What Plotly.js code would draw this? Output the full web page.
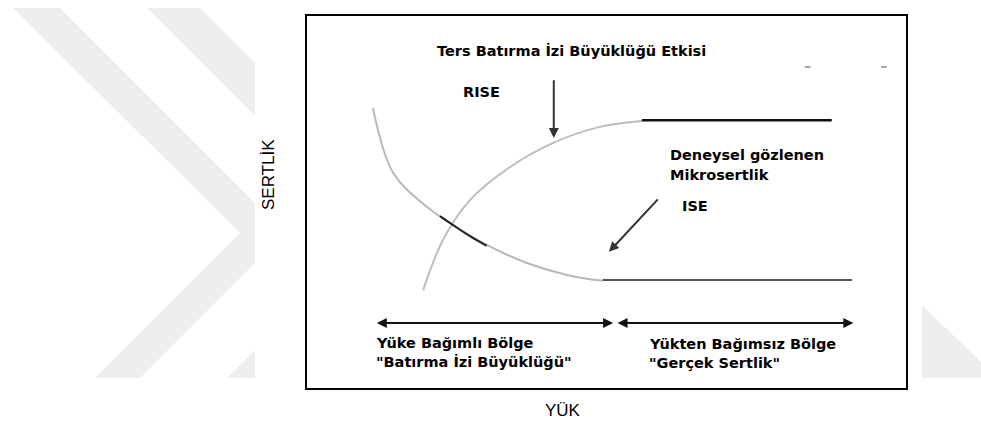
<!DOCTYPE html>
<html>
<head>
<meta charset="utf-8">
<script src="https://cdn.plot.ly/plotly-3.0.1.min.js"></script>
<style>
  html, body { margin: 0; padding: 0; background: #fff; }
  #plot { width: 981px; height: 423px; }
</style>
</head>
<body>
<div id="plot"></div>
<script>
// yük (x) ve sertlik (y), 0-100 keyfi birim
const riseLoad = [19.4, 22.7, 27.2, 33.9, 41.1, 48.9, 55.9];
const riseHard = [26.3, 39.8, 50.5, 59.4, 65.9, 70.2, 71.8];
const risePlateauLoad = [55.9, 87.6];
const risePlateauHard = [72.0, 72.0];

const iseLoad = [11.0, 14.4, 20.0, 24.4, 30.1, 36.7, 43.4, 49.4];
const iseHard = [75.3, 57.8, 48.7, 43.8, 38.4, 33.6, 30.4, 28.8];
const isePlateauLoad = [49.4, 91.0];
const isePlateauHard = [29.0, 29.0];

// kesişme civarındaki koyu kısım
const crossLoad = [22.2, 24.4, 27.2, 30.0];
const crossHard = [46.2, 43.8, 40.8, 38.2];

// sağ üstteki küçük işaretler
const tickLoad = [83.6, 96.3];
const tickHard = [86.3, 86.3];

// bölge sınırları (yük ekseni)
const regionEdges = [11.4, 51.1, 51.6, 91.2];
const regionArrowHard = 17.5;

// ok uçları: [x ucu, y ucu, x kuyruk, y kuyruk]
const riseArrow = [41.2, 67.2, 41.2, 83.1];
const iseArrow = [50.4, 36.6, 58.8, 51.1];

const labelText = [
    "Ters Batırma İzi Büyüklüğü Etkisi",
    "RISE",
    "Deneysel gözlenen",
    "Mikrosertlik",
    "ISE",
    "Yüke Bağımlı Bölge",
    "\"Batırma İzi Büyüklüğü\"",
    "Yükten Bağımsız Bölge",
    "\"Gerçek Sertlik\""
];
const labelLoad = [44.1, 25.7, 60.3, 60.3, 62.3, 11.2, 11.2, 56.8, 56.8];
const labelHard = [90.6, 79.6, 62.6, 57.2, 48.9, 12.1, 7.0, 11.8, 6.7];
const labelAnchor = ["center", "left", "left", "left", "left", "left", "left", "left", "left"];

const xTitle = "YÜK";
const yTitle = "SERTLİK";

const BOLD = "DejaVu Sans, Verdana, sans-serif";
const PLAIN = "Liberation Sans, Arial, sans-serif";

// filigran (piksel -> paper)
const W = 981, H = 423, ML = 307, MR = 75, MT = 16, MB = 35;
const pw = W - ML - MR, ph = H - MT - MB;
function px(x){ return (x-ML)/pw; }
function py(y){ return 1-(y-MT)/ph; }
function pp(pts){
    return "M" + pts.map(p => px(p[0]).toFixed(4) + "," + py(p[1]).toFixed(4)).join("L") + "Z";
}
const wmColor = "#eeeeee";
const shapes = [
    {type: "path", xref: "paper", yref: "paper", layer: "below", line: {width: 0}, fillcolor: wmColor,
     path: pp([[13,8],[60,8],[285,233],[140,378],[95,378],[240,233]])},
    {type: "path", xref: "paper", yref: "paper", layer: "below", line: {width: 0}, fillcolor: wmColor,
     path: pp([[147,8],[200,8],[425,233],[280,378],[227,378],[372,233]])},
    {type: "path", xref: "paper", yref: "paper", layer: "below", line: {width: 0}, fillcolor: wmColor,
     path: pp([[922,305],[981,362],[981,378],[922,378]])},
    {type: "path", xref: "paper", yref: "paper", layer: "below", line: {width: 0}, fillcolor: "#ffffff",
     path: pp([[255,0],[922,0],[922,423],[255,423]])}
];

const traces = [
    {x: riseLoad, y: riseHard, mode: "lines", line: {color: "#bdbdbd", width: 2, shape: "spline"}},
    {x: risePlateauLoad, y: risePlateauHard, mode: "lines", line: {color: "#111", width: 2.5}},
    {x: iseLoad, y: iseHard, mode: "lines", line: {color: "#b8b8b8", width: 2, shape: "spline"}},
    {x: isePlateauLoad, y: isePlateauHard, mode: "lines", line: {color: "#555", width: 2}},
    {x: crossLoad, y: crossHard, mode: "lines", line: {color: "#222", width: 2, shape: "spline"}},
    {x: tickLoad, y: tickHard, mode: "markers", marker: {symbol: "line-ew", size: 4, line: {color: "#888", width: 1.5}}}
];

const annotations = [];
labelText.forEach((t, i) => {
    annotations.push({
        x: labelLoad[i], y: labelHard[i], xref: "x", yref: "y",
        text: t, showarrow: false, xanchor: labelAnchor[i], yanchor: "middle",
        font: {family: BOLD, size: 14.5, color: "#000", weight: "bold"}
    });
});
// eksen başlıkları
annotations.push({
    x: px(563), y: py(410), xref: "paper", yref: "paper", text: xTitle, showarrow: false,
    xanchor: "center", yanchor: "middle", font: {family: PLAIN, size: 17, color: "#000"}
});
annotations.push({
    x: px(268), y: py(175), xref: "paper", yref: "paper", text: yTitle, showarrow: false,
    textangle: -90, xanchor: "center", yanchor: "middle", font: {family: PLAIN, size: 17, color: "#000"}
});

function arrow(tip, tail, both){
    annotations.push({
        x: tip[0], y: tip[1], ax: tail[0], ay: tail[1],
        xref: "x", yref: "y", axref: "x", ayref: "y",
        text: "", showarrow: true, arrowhead: 2, arrowsize: 1, arrowwidth: 2,
        arrowcolor: both ? "#111" : "#333", arrowside: both ? "end+start" : "end"
    });
}
arrow([riseArrow[0], riseArrow[1]], [riseArrow[2], riseArrow[3]], false);
arrow([iseArrow[0], iseArrow[1]], [iseArrow[2], iseArrow[3]], false);
arrow([regionEdges[1], regionArrowHard], [regionEdges[0], regionArrowHard], true);
arrow([regionEdges[3], regionArrowHard], [regionEdges[2], regionArrowHard], true);

const axisBase = {
    range: [0, 100], showgrid: false, zeroline: false, showticklabels: false, ticks: "",
    showline: true, mirror: true, linecolor: "#000", linewidth: 2, fixedrange: true
};

const layout = {
    width: W, height: H,
    margin: {l: ML, r: MR, t: MT, b: MB},
    paper_bgcolor: "#fff",
    plot_bgcolor: "rgba(0,0,0,0)",
    showlegend: false,
    xaxis: axisBase,
    yaxis: Object.assign({}, axisBase),
    shapes: shapes,
    annotations: annotations
};

Plotly.newPlot("plot", traces, layout, {displayModeBar: false, staticPlot: true});
</script>
</body>
</html>
